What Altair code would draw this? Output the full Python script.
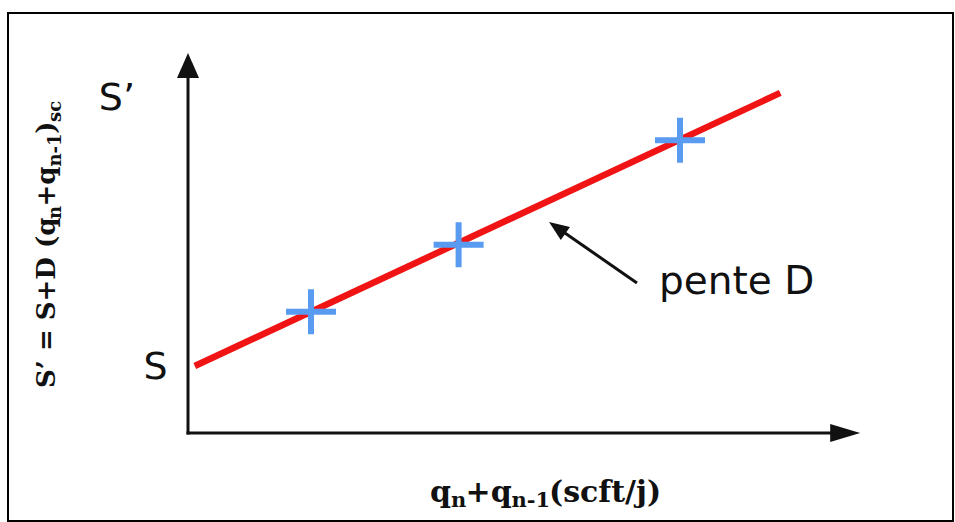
import altair as alt
import pandas as pd

# Measured points: abscissa q_n + q_(n-1), ordinate S'
q_obs = [2.0, 4.4, 8.0]
s_obs = [1.97, 3.06, 4.76]

# Fitted straight line S' = S + D (q_n + q_(n-1)), given by its two ends
line_q = [0.11, 9.63]
line_s = [1.09, 5.53]

# Axis arrows (line end, arrow tip)
x_axis_line_end, x_axis_tip = 10.6, 10.93
y_axis_line_end, y_axis_tip = 5.9, 6.18

# "pente D" pointer: tail, end of shaft, tip
ptr_tail = (7.30, 2.44)
ptr_shaft_end = (6.00, 3.34)
ptr_tip = (5.87, 3.43)
ptr_label_pos = (7.66, 2.26)

# Page layout (pixels)
PAD_L, PAD_T, PAD_R, PAD_B = 8, 13, 2, 1
W, H = 955 - PAD_L - PAD_R, 522 - PAD_T - PAD_B
x_dom = [-2.927, 12.439]
y_dom = [-1.431, 6.829]

BLUE = "#5a9bf2"
RED = "#f01414"
INK = "#111111"

X = lambda f: alt.X(f, type="quantitative", scale=alt.Scale(domain=x_dom, nice=False, zero=False), axis=None)
Y = lambda f: alt.Y(f, type="quantitative", scale=alt.Scale(domain=y_dom, nice=False, zero=False), axis=None)

# Axes
axes_df = pd.DataFrame({
    "x": [0.0, 0.0], "y": [0.0, 0.0],
    "x2": [0.0, x_axis_line_end], "y2": [y_axis_line_end, 0.0],
})
axes = alt.Chart(axes_df).mark_rule(color=INK, strokeWidth=3, strokeCap="square").encode(
    x=X("x"), y=Y("y"), x2="x2", y2="y2"
)

heads_df = pd.DataFrame({
    "x": [0.0, x_axis_tip],
    "y": [y_axis_tip, 0.0],
    "shape": ["M0,0 L-0.88,2 L0.88,2 Z", "M0,0 L-2,-0.6 L-2,0.6 Z"],
    "size": [625, 900],
})
heads = alt.Chart(heads_df).mark_point(filled=True, color=INK, opacity=1, strokeWidth=0).encode(
    x=X("x"), y=Y("y"),
    shape=alt.Shape("shape:N", scale=None),
    size=alt.Size("size:Q", scale=None),
)

# Fitted line
line_df = pd.DataFrame({"q": line_q, "s": line_s})
fit = alt.Chart(line_df).mark_line(color=RED, strokeWidth=6.5, strokeCap="butt").encode(
    x=X("q"), y=Y("s")
)

# Measured points as plus markers
pts_df = pd.DataFrame({"q": q_obs, "s": s_obs})
pts = alt.Chart(pts_df).mark_point(
    shape="M-1,0 L1,0 M0,-0.9 L0,0.9", size=2500, filled=False,
    color=BLUE, strokeWidth=6, opacity=1, strokeCap="butt",
).encode(x=X("q"), y=Y("s"))

# Pointer to the slope
ptr_df = pd.DataFrame({"x": [ptr_tail[0], ptr_shaft_end[0]], "y": [ptr_tail[1], ptr_shaft_end[1]]})
ptr_line = alt.Chart(ptr_df).mark_line(color=INK, strokeWidth=3).encode(x=X("x"), y=Y("y"))
ptr_head = alt.Chart(pd.DataFrame({"x": [ptr_tip[0]], "y": [ptr_tip[1]]})).mark_point(
    shape="M0,0 L-0.8,2 L0.8,2 Z", size=400, filled=True, color=INK, opacity=1,
    strokeWidth=0, angle=305,
).encode(x=X("x"), y=Y("y"))

ptr_label = alt.Chart(pd.DataFrame({"x": [ptr_label_pos[0]], "y": [ptr_label_pos[1]], "t": ["pente D"]})).mark_text(
    font="DejaVu Sans", fontSize=39, color=INK, align="left", baseline="alphabetic"
).encode(x=X("x"), y=Y("y"), text="t:N")

# S and S' labels, at the two ends of the fitted line
s_lab = alt.Chart(pd.DataFrame({"x": [-0.33], "y": [line_s[0]], "t": ["S"]})).mark_text(
    font="DejaVu Sans", fontSize=38, color=INK, align="right", baseline="alphabetic", dy=13
).encode(x=X("x"), y=Y("y"), text="t:N")
sp_lab = alt.Chart(pd.DataFrame({"x": [-1.45], "y": [line_s[1]], "t": ["S’"]})).mark_text(
    font="DejaVu Sans", fontSize=38, color=INK, align="left", baseline="alphabetic", dy=17
).encode(x=X("x"), y=Y("y"), text="t:N")


def run_layer(text, sx, sy, size, angle=0):
    return alt.Chart(pd.DataFrame({"t": [text]})).mark_text(
        font="DejaVu Serif", fontWeight="bold", fontSize=size, color=INK,
        align="left", baseline="alphabetic", angle=angle,
    ).encode(x=alt.value(sx - PAD_L), y=alt.value(sy - PAD_T), text="t:N")


# Axis titles with subscripts, written run by run
x_runs = [("q", False, 430), ("n", True, 451), ("+q", False, 465.5), ("n-1", True, 511.5), ("(scft/j)", False, 549)]
y_runs = [("S’ = S+D (q", False, 388), ("n", True, 219), ("+q", False, 206.5), ("n-1", True, 166.6),
          (")", False, 133.8), ("sc", True, 121.9)]

titles = []
for t, sub, sx in x_runs:
    titles.append(run_layer(t, sx, 507 if sub else 502, 21 if sub else 30))
for t, sub, sy in y_runs:
    titles.append(run_layer(t, 61 if sub else 55, sy, 18 if sub else 26, angle=270))

chart = alt.layer(
    axes, heads, fit, pts, ptr_line, ptr_head, ptr_label, s_lab, sp_lab, *titles
).properties(
    width=W, height=H,
    padding={"left": PAD_L, "top": PAD_T, "right": PAD_R, "bottom": PAD_B},
    autosize=alt.AutoSizeParams(type="none"),
    background="white",
).configure_view(stroke="black", strokeWidth=2)

chart.save("out.html", embed_options={"renderer": "svg", "actions": False})
